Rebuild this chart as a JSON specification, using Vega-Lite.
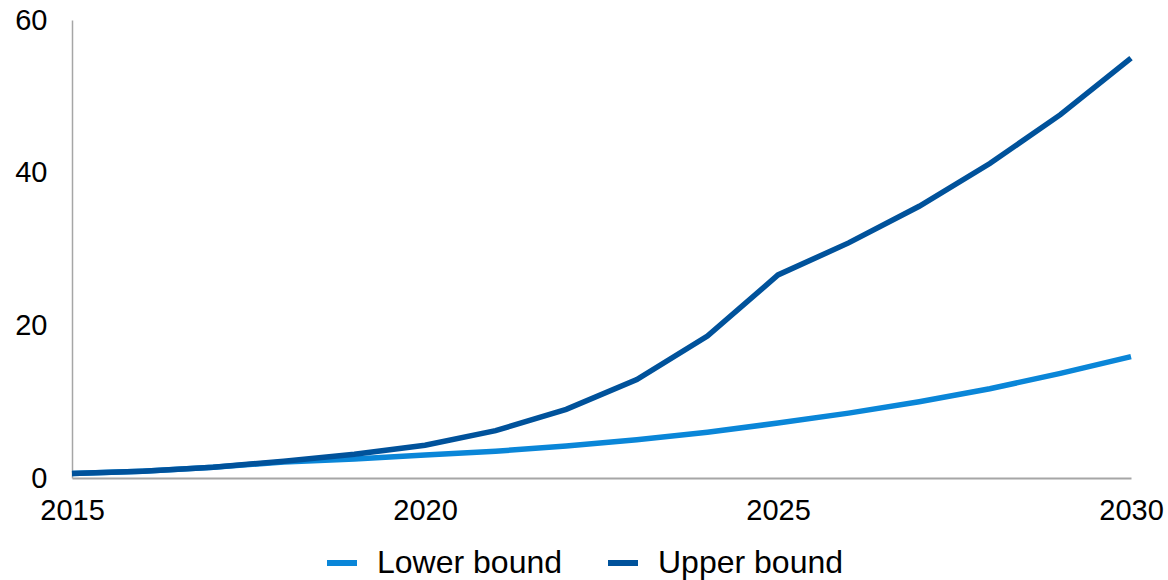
{
  "$schema": "https://vega.github.io/schema/vega-lite/v6.json",
  "width": 1059,
  "height": 458,
  "autosize": "none",
  "padding": {"left": 72, "top": 20, "right": 37, "bottom": 102},
  "config": {"view": {"stroke": null}, "font": "Liberation Sans"},
  "data": {
    "values": [
      {"year": 2015, "series": "Lower bound", "value": 0.6},
      {"year": 2016, "series": "Lower bound", "value": 0.9},
      {"year": 2017, "series": "Lower bound", "value": 1.4},
      {"year": 2018, "series": "Lower bound", "value": 2.1},
      {"year": 2019, "series": "Lower bound", "value": 2.5},
      {"year": 2020, "series": "Lower bound", "value": 3.0},
      {"year": 2021, "series": "Lower bound", "value": 3.5},
      {"year": 2022, "series": "Lower bound", "value": 4.2},
      {"year": 2023, "series": "Lower bound", "value": 5.0},
      {"year": 2024, "series": "Lower bound", "value": 6.0},
      {"year": 2025, "series": "Lower bound", "value": 7.2},
      {"year": 2026, "series": "Lower bound", "value": 8.5},
      {"year": 2027, "series": "Lower bound", "value": 10.0},
      {"year": 2028, "series": "Lower bound", "value": 11.7},
      {"year": 2029, "series": "Lower bound", "value": 13.7},
      {"year": 2030, "series": "Lower bound", "value": 15.9},
      {"year": 2015, "series": "Upper bound", "value": 0.6},
      {"year": 2016, "series": "Upper bound", "value": 0.9},
      {"year": 2017, "series": "Upper bound", "value": 1.4},
      {"year": 2018, "series": "Upper bound", "value": 2.2},
      {"year": 2019, "series": "Upper bound", "value": 3.1},
      {"year": 2020, "series": "Upper bound", "value": 4.3},
      {"year": 2021, "series": "Upper bound", "value": 6.2},
      {"year": 2022, "series": "Upper bound", "value": 9.0},
      {"year": 2023, "series": "Upper bound", "value": 12.9},
      {"year": 2024, "series": "Upper bound", "value": 18.6},
      {"year": 2025, "series": "Upper bound", "value": 26.6},
      {"year": 2026, "series": "Upper bound", "value": 30.8},
      {"year": 2027, "series": "Upper bound", "value": 35.6},
      {"year": 2028, "series": "Upper bound", "value": 41.2},
      {"year": 2029, "series": "Upper bound", "value": 47.6},
      {"year": 2030, "series": "Upper bound", "value": 55.0}
    ]
  },
  "mark": {"type": "line", "strokeWidth": 5.5},
  "encoding": {
    "x": {
      "field": "year",
      "type": "quantitative",
      "scale": {"domain": [2015, 2030], "nice": false, "zero": false},
      "axis": {
        "values": [2015, 2020, 2025, 2030],
        "format": "d",
        "title": null,
        "grid": false,
        "ticks": false,
        "domainColor": "#a6a6a6",
        "domainWidth": 2,
        "labelFontSize": 29,
        "labelColor": "#000000",
        "labelPadding": 18,
        "labelFlush": false,
        "labelOverlap": false
      }
    },
    "y": {
      "field": "value",
      "type": "quantitative",
      "scale": {"domain": [0, 60], "nice": false},
      "axis": {
        "values": [0, 20, 40, 60],
        "title": null,
        "grid": false,
        "ticks": false,
        "domainColor": "#a6a6a6",
        "domainWidth": 1.5,
        "labelFontSize": 29,
        "labelColor": "#000000",
        "labelPadding": 25,
        "labelFlush": false,
        "labelOverlap": false
      }
    },
    "color": {
      "field": "series",
      "type": "nominal",
      "scale": {"domain": ["Lower bound", "Upper bound"], "range": ["#0a86d8", "#00529b"]},
      "legend": {
        "title": null,
        "orient": "none",
        "direction": "horizontal",
        "legendX": 252,
        "legendY": 525,
        "symbolType": "stroke",
        "symbolSize": 900,
        "symbolStrokeWidth": 6,
        "labelFontSize": 32,
        "labelColor": "#000000",
        "labelOffset": 17,
        "columnPadding": 33,
        "labelLimit": 400
      }
    }
  }
}
